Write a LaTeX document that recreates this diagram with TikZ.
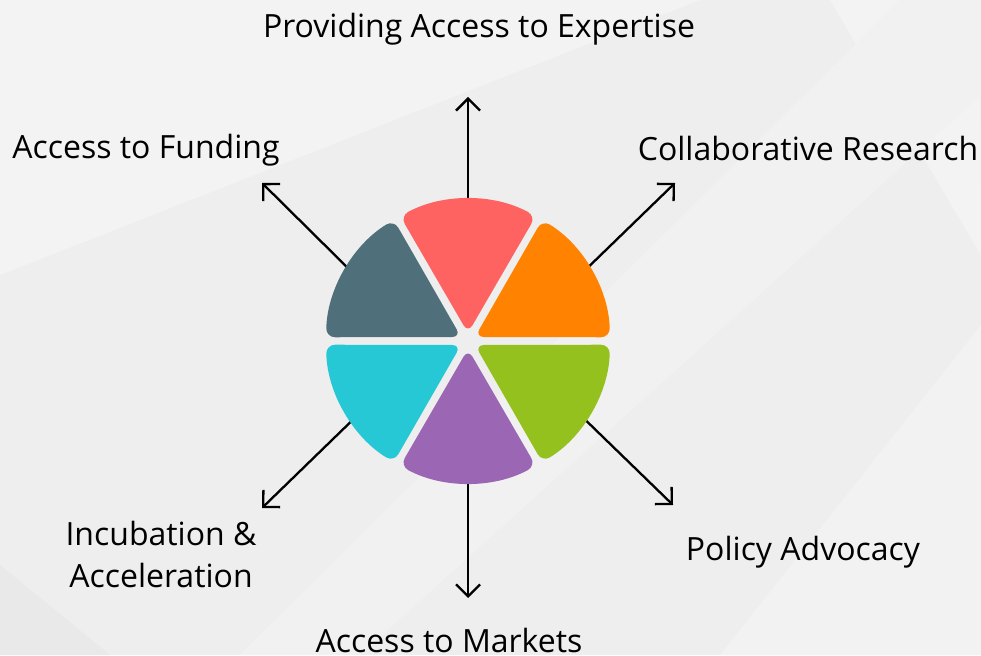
\documentclass[tikz,border=0pt]{standalone}
\usepackage{fontspec}
\setmainfont{Open Sans}
\usetikzlibrary{arrows.meta,calc}
\definecolor{bgA}{HTML}{EEEEEE}
\definecolor{bgB}{HTML}{F3F3F3}
\definecolor{bgC}{HTML}{E9E9E9}
\definecolor{wRed}{HTML}{FF6361}
\definecolor{wOrange}{HTML}{FF8300}
\definecolor{wGreen}{HTML}{95C11F}
\definecolor{wPurple}{HTML}{9B67B4}
\definecolor{wCyan}{HTML}{26C8D6}
\definecolor{wSlate}{HTML}{4F6F7B}
\tikzset{
  lbl/.style={font=\fontsize{32}{42}\selectfont, text=black, inner sep=0pt},
  conn/.style={line width=2.3pt, draw=black, -{Straight Barb[length=12pt,width=24pt,line width=2.3pt]}},
  wedge/.style={rounded corners=9pt}
}
\newcommand{\mywedge}[2]{%
  \fill[wedge,#2] ($(468,314)+(#1:8)$) -- ($(468,314)+(#1-30+1.5:142)$) arc[start angle=#1-30+1.5, end angle=#1+30-1.5, radius=142] -- cycle;}
\begin{document}
\begin{tikzpicture}[x=1pt,y=1pt]
\useasboundingbox (0,0) rectangle (981,655);
% background
\fill[bgA] (0,0) rectangle (981,655);
\fill[bgB] (0,655) -- (0,380) -- (700,655) -- cycle;
\fill[bgB] (980,655) -- (981,400) -- (830,655) -- cycle;
\fill[bgB!60!bgA] (360,0) -- (981,560) -- (981,655) -- (900,655) -- (240,0) -- cycle;
\fill[bgC] (0,0) -- (0,90) -- (110,0) -- cycle;
\fill[bgB!80!bgA] (720,0) -- (981,330) -- (981,0) -- cycle;
% connector end points
\coordinate (cU0) at (468,440);
\coordinate (cU1) at (468,558);
\coordinate (cUR0) at (575,375);
\coordinate (cUR1) at (675,472);
\coordinate (cUL0) at (362,373);
\coordinate (cUL1) at (262,472);
\coordinate (cLR0) at (570,250);
\coordinate (cLR1) at (673,150);
\coordinate (cLL0) at (366,248);
\coordinate (cLL1) at (262,147);
\coordinate (cD0) at (468,200);
\coordinate (cD1) at (468,57);
\draw[conn] (cU0) -- (cU1);
\draw[conn] (cUR0) -- (cUR1);
\draw[conn] (cUL0) -- (cUL1);
\draw[conn] (cLR0) -- (cLR1);
\draw[conn] (cLL0) -- (cLL1);
\draw[conn] (cD0) -- (cD1);
% wedges
\mywedge{90}{wRed}
\mywedge{30}{wOrange}
\mywedge{-30}{wGreen}
\mywedge{-90}{wPurple}
\mywedge{-150}{wCyan}
\mywedge{150}{wSlate}
% labels
\node[lbl] (tU) at (479,626) {Providing Access to Expertise};
\node[lbl] (tUL) at (146,505) {Access to Funding};
\node[lbl] (tUR) at (808,506) {Collaborative Research};
\node[lbl, align=center] (tLL) at (161,100) {Incubation \&\\Acceleration};
\node[lbl] (tLR) at (803,103) {Policy Advocacy};
\node[lbl] (tD) at (449,15) {Access to Markets};
\end{tikzpicture}
\end{document}
